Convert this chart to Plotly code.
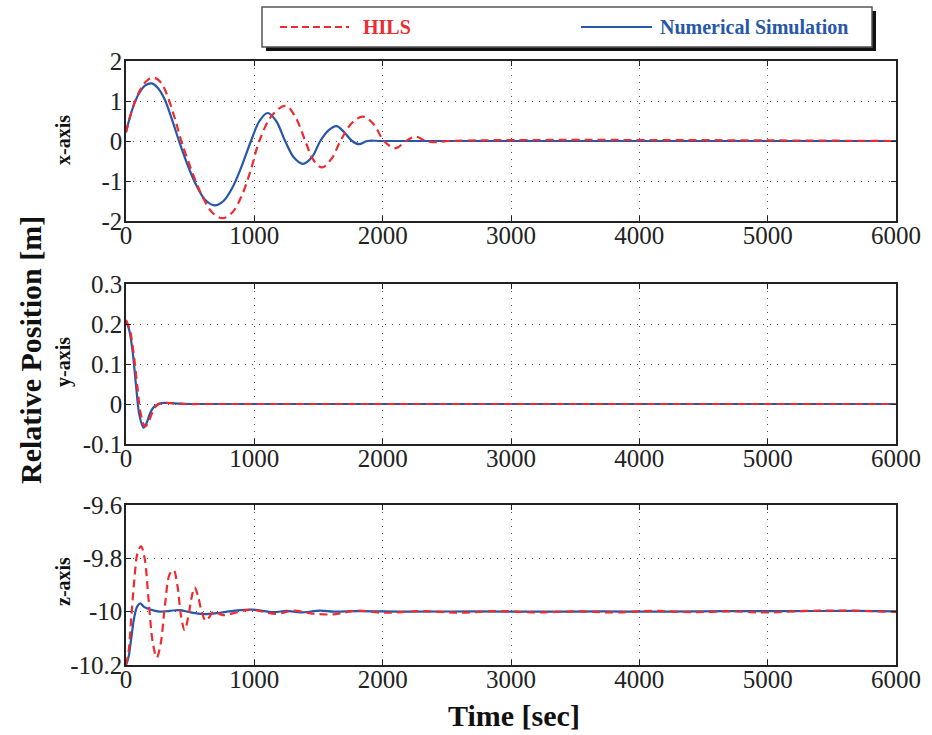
import plotly.graph_objects as go

W, H = 932, 735

# ---------------- data ----------------
# x-axis relative position [m]
x_num_t = [0, 50, 100, 150, 201, 250, 300, 360, 413, 480, 550, 620, 692, 760, 830, 900, 974, 1040, 1104,
           1170, 1240, 1310, 1379, 1450, 1514, 1580, 1640, 1700, 1762, 1815, 1880, 2000, 6000]
x_num_v = [0.22, 0.8, 1.18, 1.39, 1.44, 1.32, 1.05, 0.52, 0, -0.6, -1.12, -1.48, -1.61, -1.5, -1.16, -0.64,
           0, 0.5, 0.70, 0.5, 0, -0.42, -0.57, -0.4, 0, 0.27, 0.37, 0.22, 0, -0.08, 0, 0, 0]
x_hils_t = [0, 60, 120, 170, 222, 275, 320, 380, 431, 510, 590, 670, 752, 830, 900, 970, 1039, 1140, 1245,
            1320, 1397, 1460, 1527, 1600, 1671, 1760, 1846, 1930, 2010, 2102, 2180, 2258, 2337, 2428,
            2520, 6000]
x_hils_v = [0.22, 0.9, 1.33, 1.53, 1.58, 1.45, 1.15, 0.57, 0, -0.73, -1.35, -1.78, -1.93, -1.78, -1.38,
            -0.75, 0, 0.65, 0.88, 0.6, 0, -0.47, -0.66, -0.45, 0, 0.45, 0.61, 0.42, 0, -0.18, 0, 0.11,
            0, -0.03, 0, 0]

# y-axis relative position [m]
y_num_t = [0, 25, 52, 78, 104, 136, 160, 183, 210, 235, 270, 300, 360, 418, 500, 6000]
y_num_v = [0.207, 0.185, 0.13, 0.047, -0.027, -0.059, -0.048, -0.027, -0.01, -0.003, 0.002, 0.003,
           0.002, 0.001, 0, 0]
y_hils_t = [0, 30, 60, 88, 115, 149, 175, 200, 228, 255, 285, 320, 380, 450, 600, 6000]
y_hils_v = [0.21, 0.185, 0.125, 0.045, -0.025, -0.056, -0.045, -0.025, -0.008, 0.0, 0.003, 0.003,
            0.001, 0, 0, 0]

# z-axis relative position [m]
z_num_t = [0, 20, 39, 65, 88, 110, 140, 183, 261, 340, 418, 496, 600, 731, 850, 979, 1149, 1253, 1358,
           1514, 1619, 1800, 2200, 2700, 3200, 3700, 4200, 4700, 5200, 5700, 6000]
z_num_v = [-10.2, -10.17, -10.107, -10.019, -9.98, -9.969, -9.982, -9.991, -10.0, -9.997, -9.994, -10.002,
           -10.009, -10.004, -9.996, -9.992, -10.002, -9.997, -10.003, -9.996, -10.0, -9.998, -10.0,
           -9.999, -10.0, -9.999, -10.0, -9.998, -9.998, -9.997, -9.999]
z_hils_t = [0, 20, 40, 65, 90, 117, 145, 175, 210, 240, 270, 305, 340, 371, 400, 430, 457, 485, 510, 535,
            560, 590, 621, 650, 679, 757, 860, 966, 1175, 1300, 1450, 1619, 1800, 2000, 2300, 2600, 2900,
            3200, 3500, 3800, 4100, 4400, 4700, 5000, 5300, 5600, 6000]
z_hils_v = [-10.2, -10.15, -10.03, -9.88, -9.78, -9.755, -9.8, -9.95, -10.12, -10.172, -10.12, -9.97,
            -9.86, -9.845, -9.9, -10.02, -10.069, -10.02, -9.95, -9.909, -9.94, -10.0, -10.034, -10.02,
            -10.0, -10.013, -10.003, -9.993, -10.008, -9.996, -10.007, -10.01, -9.996, -10.004, -9.998,
            -10.004, -9.998, -10.003, -9.999, -10.003, -9.997, -10.002, -9.999, -10.003, -9.997, -9.996,
            -10.001]

time_ticks = [0, 1000, 2000, 3000, 4000, 5000, 6000]
time_labels = ["0", "1000", "2000", "3000", "4000", "5000", "6000"]
x_ticks = [-2, -1, 0, 1, 2]
x_labels = ["-2", "-1", "0", "1", "2"]
y_ticks = [-0.1, 0, 0.1, 0.2, 0.3]
y_labels = ["-0.1", "0", "0.1", "0.2", "0.3"]
z_ticks = [-10.2, -10.0, -9.8, -9.6]
z_labels = ["-10.2", "-10", "-9.8", "-9.6"]

series_names = ["HILS", "Numerical Simulation"]
panel_labels = ["x-axis", "y-axis", "z-axis"]

# ---------------- styling ----------------
RED = "#EE2B2E"
BLUE = "#2757A8"
FONT = "Liberation Serif"

def px(x):
    return x / W

def py(y):
    return 1 - y / H

fig = go.Figure()

panels = [
    (x_num_t, x_num_v, x_hils_t, x_hils_v),
    (y_num_t, y_num_v, y_hils_t, y_hils_v),
    (z_num_t, z_num_v, z_hils_t, z_hils_v),
]
for i, (nt, nv, ht, hv) in enumerate(panels):
    xa = "x" if i == 0 else f"x{i+1}"
    ya = "y" if i == 0 else f"y{i+1}"
    fig.add_trace(go.Scatter(x=nt, y=nv, mode="lines", name=series_names[1], xaxis=xa, yaxis=ya,
                             line=dict(color=BLUE, width=2.2, shape="spline", smoothing=1.0),
                             showlegend=False))
    fig.add_trace(go.Scatter(x=ht, y=hv, mode="lines", name=series_names[0], xaxis=xa, yaxis=ya,
                             line=dict(color=RED, width=2.2, dash="8px,5px", shape="spline", smoothing=1.0),
                             showlegend=False))

tick_font = dict(family=FONT, size=25, color="#222")
common_x = dict(range=[0, 6000], tickvals=time_ticks, ticktext=time_labels, tickfont=tick_font,
                showline=True, linecolor="#222", linewidth=1.5, mirror="ticks", ticks="inside",
                ticklen=5, tickcolor="#222", showgrid=True, gridcolor="#555", griddash="1px,6px",
                gridwidth=1, zeroline=False, domain=[px(126), px(896)], automargin=False,
                ticklabelstandoff=-9)
common_y = dict(tickfont=tick_font, showline=True, linecolor="#222", linewidth=1.5, mirror="ticks",
                ticks="inside", ticklen=5, tickcolor="#222", showgrid=True, gridcolor="#555",
                griddash="1px,6px", gridwidth=1, zeroline=False, automargin=False,
                ticklabelstandoff=-3)

tops = [61, 284, 505]
bots = [221, 444, 665]
yspecs = [([-2, 2], x_ticks, x_labels), ([-0.1, 0.3], y_ticks, y_labels), ([-10.2, -9.6], z_ticks, z_labels)]
layout_axes = {}
for i in range(3):
    xn = "xaxis" if i == 0 else f"xaxis{i+1}"
    yn = "yaxis" if i == 0 else f"yaxis{i+1}"
    layout_axes[xn] = dict(common_x, anchor="y" if i == 0 else f"y{i+1}")
    r, tv, tt = yspecs[i]
    layout_axes[yn] = dict(common_y, range=r, tickvals=tv, ticktext=tt,
                           domain=[py(bots[i]), py(tops[i])],
                           anchor="x" if i == 0 else f"x{i+1}")

fig.update_layout(**layout_axes)

annotations = [
    dict(text="<b>Time [sec]</b>", x=px(514), y=py(715), xref="paper", yref="paper", showarrow=False,
         font=dict(family=FONT, size=30, color="#111"), xanchor="center", yanchor="middle"),
    dict(text="<b>Relative Position [m]</b>", x=px(30), y=py(350), xref="paper", yref="paper",
         showarrow=False, textangle=-90, font=dict(family=FONT, size=30, color="#111"),
         xanchor="center", yanchor="middle"),
]
for lab, yc in zip(panel_labels, [140, 362, 582]):
    annotations.append(dict(text=f"<b>{lab}</b>", x=px(63), y=py(yc), xref="paper", yref="paper",
                            showarrow=False, textangle=-90, font=dict(family=FONT, size=20, color="#111"),
                            xanchor="center", yanchor="middle"))
# legend texts
annotations.append(dict(text=f"<b>{series_names[0]}</b>", x=px(361), y=py(27), xref="paper", yref="paper",
                        showarrow=False, font=dict(family=FONT, size=20, color=RED),
                        xanchor="left", yanchor="middle"))
annotations.append(dict(text=f"<b>{series_names[1]}</b>", x=px(658), y=py(27), xref="paper", yref="paper",
                        showarrow=False, font=dict(family=FONT, size=20, color=BLUE),
                        xanchor="left", yanchor="middle"))

shapes = [
    dict(type="rect", xref="paper", yref="paper", x0=px(266), x1=px(876), y0=py(51), y1=py(11),
         fillcolor="#111", line=dict(width=0), layer="above"),
    dict(type="rect", xref="paper", yref="paper", x0=px(262), x1=px(872), y0=py(47), y1=py(7),
         fillcolor="white", line=dict(color="#555", width=1.5), layer="above"),
    dict(type="line", xref="paper", yref="paper", x0=px(280), x1=px(349), y0=py(27), y1=py(27),
         line=dict(color=RED, width=2, dash="7px,4px"), layer="above"),
    dict(type="line", xref="paper", yref="paper", x0=px(581), x1=px(652), y0=py(27), y1=py(27),
         line=dict(color=BLUE, width=2), layer="above"),
]

fig.update_layout(width=W, height=H, margin=dict(l=0, r=0, t=0, b=0, autoexpand=False),
                  paper_bgcolor="white", plot_bgcolor="white", annotations=annotations, shapes=shapes,
                  showlegend=False)

fig.write_html("out.html", config={"displayModeBar": False},
               post_script="document.body.style.margin='0';document.body.style.overflow='hidden';")
